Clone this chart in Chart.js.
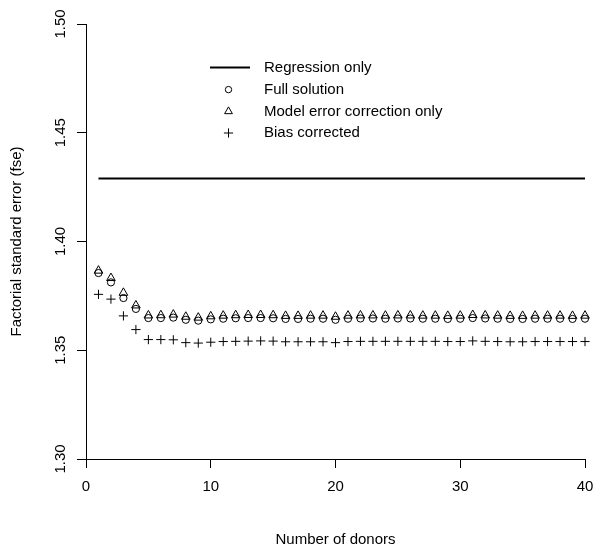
<!DOCTYPE html>
<html><head><meta charset="utf-8">
<script src="https://cdn.jsdelivr.net/npm/chart.js@4.4.0/dist/chart.umd.min.js"></script>
<style>html,body{margin:0;padding:0;background:#fff;} #wrap{width:595px;height:549px;position:relative;}</style>
</head><body><div id="wrap"><canvas id="c" width="595" height="549"></canvas></div>
<script>
// ---- data ----
const donors = [1,2,3,4,5,6,7,8,9,10,11,12,13,14,15,16,17,18,19,20,21,22,23,24,25,26,27,28,29,30,31,32,33,34,35,36,37,38,39,40];
const fullSolution = [1.3855,1.3812,1.3740,1.3690,1.3648,1.3648,1.3650,1.3640,1.3636,1.3642,
  1.3645,1.3647,1.3648,1.3648,1.3647,1.3644,1.3644,1.3645,1.3645,1.3640,
  1.3645,1.3646,1.3646,1.3645,1.3646,1.3646,1.3645,1.3645,1.3644,1.3645,
  1.3648,1.3646,1.3645,1.3644,1.3644,1.3645,1.3645,1.3645,1.3644,1.3645];
const modelErrorOnly = [1.3866,1.3832,1.3764,1.3706,1.3660,1.3661,1.3664,1.3654,1.3650,1.3656,
  1.3659,1.3661,1.3662,1.3662,1.3661,1.3658,1.3658,1.3659,1.3659,1.3654,
  1.3659,1.3660,1.3660,1.3659,1.3660,1.3660,1.3659,1.3659,1.3658,1.3659,
  1.3662,1.3660,1.3659,1.3658,1.3658,1.3659,1.3659,1.3659,1.3658,1.3659];
const biasCorrected = [1.3757,1.3735,1.3658,1.3595,1.3549,1.3549,1.3548,1.3535,1.3533,1.3537,
  1.3540,1.3541,1.3542,1.3543,1.3542,1.3539,1.3539,1.3539,1.3539,1.3535,
  1.3540,1.3541,1.3541,1.3541,1.3541,1.3541,1.3541,1.3541,1.3540,1.3540,
  1.3543,1.3541,1.3540,1.3539,1.3539,1.3540,1.3540,1.3540,1.3540,1.3540];
const regressionOnly = 1.429;
const regressionSpan = [1, 40];
const xTicks = [0, 10, 20, 30, 40];
const yTicks = [1.30, 1.35, 1.40, 1.45, 1.50];
const seriesLabels = ['Regression only', 'Full solution', 'Model error correction only', 'Bias corrected'];
const xTitle = 'Number of donors';
const yTitle = 'Factorial standard error (fse)';

// ---- chart ----
const FONT = "'Liberation Sans', Arial, Helvetica, sans-serif";
Chart.defaults.font.family = FONT;
Chart.defaults.font.size = 15;
Chart.defaults.color = '#000';

const pts = (arr) => donors.map((d, i) => ({x: d, y: arr[i]}));

const legendPlugin = {
  id: 'rLegend',
  afterDraw(chart) {
    const ctx = chart.ctx;
    const rows = [67.5, 89.6, 111.4, 133.0];
    const sizes = {circle: 3.2, triangle: 4.5, cross: 4.6};
    ctx.save();
    ctx.font = '15px ' + FONT;
    chart.data.datasets.forEach((ds, i) => {
      const y = rows[i];
      ctx.strokeStyle = '#000';
      ctx.fillStyle = 'rgba(0,0,0,0)';
      if (ds.type === 'line') {
        ctx.lineWidth = 2;
        ctx.beginPath(); ctx.moveTo(210, y); ctx.lineTo(250, y); ctx.stroke();
      } else {
        ctx.lineWidth = 1;
        Chart.helpers.drawPoint(ctx, {pointStyle: ds.pointStyle, radius: sizes[ds.pointStyle], borderWidth: 1, rotation: 0}, 228.5, y);
      }
      ctx.fillStyle = '#000';
      ctx.textAlign = 'left';
      ctx.textBaseline = 'middle';
      ctx.fillText(ds.label, 264, y);
    });
    ctx.restore();
  }
};

const markerBase = {type: 'scatter', borderColor: '#000', backgroundColor: 'rgba(0,0,0,0)', borderWidth: 1, clip: false};

new Chart(document.getElementById('c'), {
  type: 'scatter',
  data: {
    datasets: [
      {type: 'line', label: seriesLabels[0], data: regressionSpan.map(x => ({x, y: regressionOnly})),
       borderColor: '#000', borderWidth: 2, pointRadius: 0, fill: false, clip: false},
      Object.assign({label: seriesLabels[1], data: pts(fullSolution), pointStyle: 'circle', pointRadius: 3.6}, markerBase),
      Object.assign({label: seriesLabels[2], data: pts(modelErrorOnly), pointStyle: 'triangle', pointRadius: 5}, markerBase),
      Object.assign({label: seriesLabels[3], data: pts(biasCorrected), pointStyle: 'cross', pointRadius: 4.6}, markerBase)
    ]
  },
  options: {
    responsive: false,
    animation: false,
    devicePixelRatio: 1,
    layout: {padding: {top: 24, right: 10, left: 0, bottom: 0}},
    plugins: {legend: {display: false}, tooltip: {enabled: false}},
    scales: {
      x: {
        type: 'linear', position: 'bottom', min: 0, max: 40,
        afterBuildTicks: (s) => { s.ticks = xTicks.map(v => ({value: v})); },
        afterFit: (s) => { s.height = 90; s.paddingLeft = 0; s.paddingRight = 0; },
        ticks: {autoSkip: false, maxRotation: 0, padding: 10, callback: (v) => String(v), font: {size: 15}},
        grid: {drawOnChartArea: false, drawTicks: true, tickLength: 9, color: '#000', tickColor: '#000', lineWidth: 1},
        border: {display: true, color: '#000', width: 1},
        title: {display: true, text: xTitle, font: {size: 15}, padding: {top: 0, bottom: 0}}
      },
      y: {
        type: 'linear', position: 'left', min: 1.3, max: 1.5,
        afterBuildTicks: (s) => { s.ticks = yTicks.map(v => ({value: v})); },
        afterFit: (s) => { s.width = 86; s.paddingTop = 0; s.paddingBottom = 0; },
        ticks: {autoSkip: false, minRotation: 90, maxRotation: 90, crossAlign: 'center', padding: 2,
                callback: (v) => Number(v).toFixed(2), font: {size: 15}},
        grid: {drawOnChartArea: false, drawTicks: true, tickLength: 9, color: '#000', tickColor: '#000', lineWidth: 1},
        border: {display: true, color: '#000', width: 1},
        title: {display: true, text: yTitle, font: {size: 15}, padding: {top: 8, bottom: 0}}
      }
    }
  },
  plugins: [legendPlugin]
});
</script>
</body></html>
